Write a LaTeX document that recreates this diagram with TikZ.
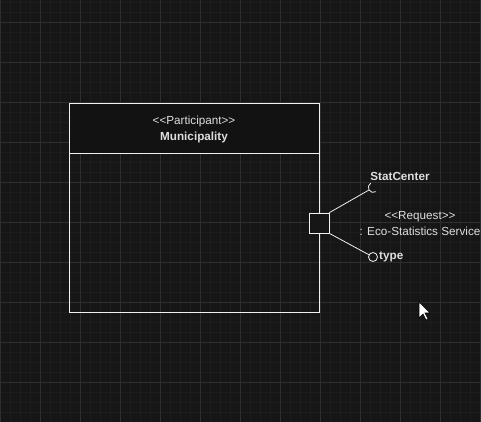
\documentclass[tikz,border=0pt]{standalone}
\usepackage{fontspec}
\setmainfont{Liberation Sans}[Ligatures=TeXOff]
\usetikzlibrary{positioning}

\definecolor{bgdark}{RGB}{22,22,22}
\definecolor{gridminor}{RGB}{29,29,29}
\definecolor{gridmajor}{RGB}{46,46,46}
\definecolor{headfill}{RGB}{18,18,18}
\definecolor{umlline}{RGB}{240,240,240}
\definecolor{umltext}{RGB}{222,222,222}

\begin{document}
\begin{tikzpicture}[x=1pt, y=1pt,
  label/.style={text=umltext, font=\fontsize{11.7}{13}\selectfont, inner sep=0pt},
  boldlabel/.style={label, font=\fontsize{11.7}{13}\selectfont\bfseries},
  umlbox/.style={draw=umlline, line width=0.8pt}]
% background and grid
\fill[bgdark] (0,0) rectangle (481,422);
\useasboundingbox (0,0) rectangle (481,422);
\draw[step=10, gridminor, line width=0.6pt] (-1,-1) grid (481,422);
\draw[step=40, gridmajor, line width=0.8pt] (-1,-1) grid (481,422);

% participant
\fill[headfill] (69,269) rectangle (319,319);
\draw[umlbox] (69,110) rectangle (319,319);
\draw[umlbox] (69,269) -- (319,269);
\node[label] (stereo) at (194,301) {<<Participant>>};
\node[boldlabel] (name) at (194,285) {Municipality};

% port and interfaces
\node[umlbox, fill=bgdark, minimum size=20, inner sep=0pt] (port) at (319,199) {};
\coordinate (sock) at (369,232);
\node[umlbox, circle, minimum size=9, inner sep=0pt] (ball) at (373,165) {};
\draw[umlbox] (port.north east) -- (sock);
\draw[umlbox] (sock) arc[start angle=211, end angle=121, radius=5];
\draw[umlbox] (sock) arc[start angle=211, end angle=301, radius=5];
\draw[umlbox] (port.south east) -- (ball);

\node[boldlabel] (statcenter) at (400,246) {StatCenter};
\node[boldlabel, anchor=west] (type) at (379,165) {type};
\node[label] (request) at (420,205.5) {<<Request>>};
\node[label] (service) at (420,190.5) {: Eco-Statistics Service};

% mouse pointer
\filldraw[fill=white, draw=black, line width=0.6pt] (419,120) -- (419,104) -- (423,108) -- (426,102) -- (428,103) -- (425,109) -- (430,109) -- cycle;
\end{tikzpicture}
\end{document}
